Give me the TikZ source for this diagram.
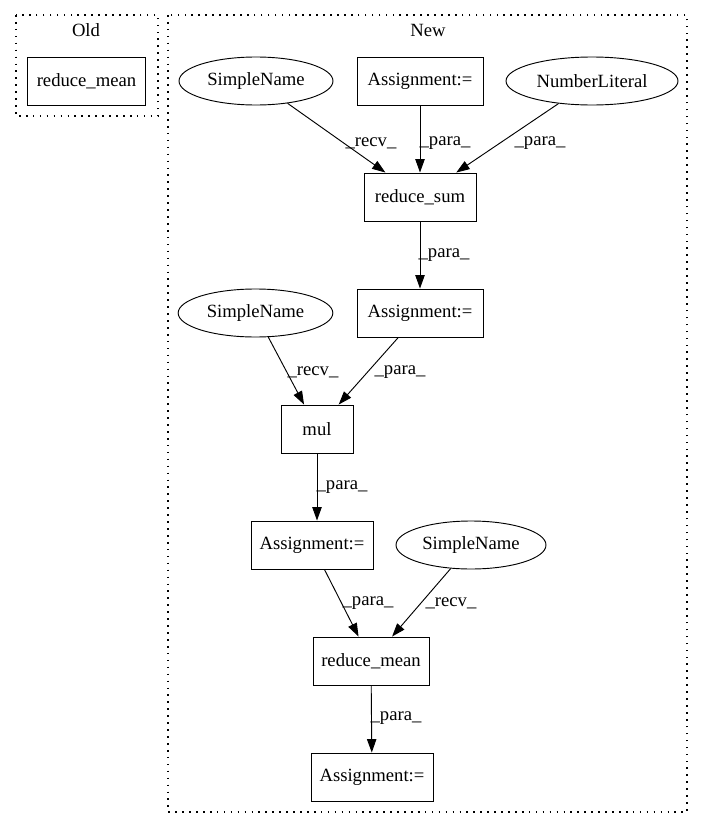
\documentclass[tikz,border=0pt]{standalone}
\usepackage{fontspec}
\setmainfont{Liberation Serif}
\usetikzlibrary{arrows.meta,shapes.geometric}
\begin{document}
\begin{tikzpicture}[x=0.75pt,y=-0.75pt,
  every node/.style={font=\fontsize{14pt}{16pt}\selectfont, inner sep=0pt},
  box/.style={draw, line width=0.7pt, rectangle, minimum height=36pt},
  ell/.style={draw, line width=0.7pt, ellipse, minimum height=36pt},
  clus/.style={draw, line width=0.9pt, dash pattern=on 1.2pt off 4pt},
  edge/.style={draw, line width=0.7pt, -{Triangle[length=10pt,width=7pt]}},
  lab/.style={anchor=center}]
\useasboundingbox (0,0) rectangle (704,828);
% clusters
\draw[clus] (16,15) rectangle (158,116);
\draw[clus] (168,15) rectangle (687,812);
\node (oldlab) at (86,30) {Old};
\node (newlab) at (428,30) {New};
% old
\node[box, minimum width=89pt] (oldrm) at (86.5,81) {reduce\_mean};
% new
\node[ell, minimum width=115.5pt] (sn1) at (256,81) {SimpleName};
\node[box, minimum width=94.5pt] (as1) at (420,81) {Assignment:=};
\node[ell, minimum width=129pt] (nl) at (592,81) {NumberLiteral};
\node[box, minimum width=84pt] (rs) at (420,197) {reduce\_sum};
\node[box, minimum width=94.5pt] (as2) at (420,313) {Assignment:=};
\node[ell, minimum width=116pt] (sn2) at (255.5,313) {SimpleName};
\node[box, minimum width=54pt] (mul) at (317,429) {mul};
\node[box, minimum width=91.5pt] (as3) at (312,545) {Assignment:=};
\node[ell, minimum width=112.5pt] (sn3) at (471,545) {SimpleName};
\node[box, minimum width=87pt] (rm) at (371,661) {reduce\_mean};
\node[box, minimum width=91.5pt] (as4) at (372,777) {Assignment:=};
% edges
\draw[edge] (sn1) -- (rs);
\draw[edge] (as1) -- (rs);
\draw[edge] (nl) -- (rs);
\draw[edge] (rs) -- (as2);
\draw[edge] (sn2) -- (mul);
\draw[edge] (as2) -- (mul);
\draw[edge] (mul.south) -- (mul.south |- as3.north);
\draw[edge] (as3) -- (rm);
\draw[edge] (sn3) -- (rm);
\draw[edge] (rm) -- (as4);
% labels
\node[lab] (l1) at (371,143) {\_recv\_};
\node[lab] (l2) at (445,143) {\_para\_};
\node[lab] (l3) at (540,143) {\_para\_};
\node[lab] (l4) at (444,255) {\_para\_};
\node[lab] (l5) at (313,372) {\_recv\_};
\node[lab] (l6) at (400,372) {\_para\_};
\node[lab] (l7) at (342,487) {\_para\_};
\node[lab] (l8) at (368,603) {\_para\_};
\node[lab] (l9) at (451,603) {\_recv\_};
\node[lab] (l10) at (396,718) {\_para\_};
\end{tikzpicture}
\end{document}
